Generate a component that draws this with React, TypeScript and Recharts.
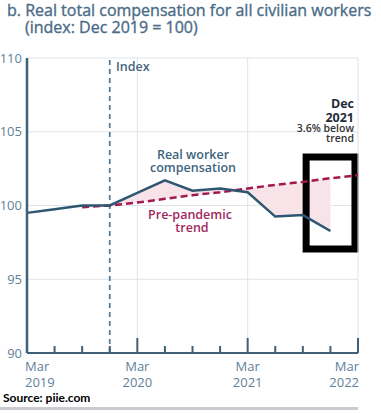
import { Area, CartesianGrid, ComposedChart, Line, ReferenceArea, ReferenceLine, XAxis, YAxis } from "recharts"

// quarterly index, Dec 2019 = 100
const quarters = [
  "Mar 2019", "Jun 2019", "Sep 2019", "Dec 2019",
  "Mar 2020", "Jun 2020", "Sep 2020", "Dec 2020",
  "Mar 2021", "Jun 2021", "Sep 2021", "Dec 2021", "Mar 2022",
]
const compensation = [99.5, 99.75, 100, 100, 100.85, 101.7, 101.0, 101.15, 100.9, 99.25, 99.35, 98.27, null]
const trend = [null, null, 99.88, 100, 100.2, 100.45, 100.7, 100.9, 101.15, 101.4, 101.6, 101.85, 102.05]

const yTicks = [90, 95, 100, 105, 110]
const majorTickIdx = [0, 4, 8, 12]
const tickYears = ["2019", "2020", "2021", "2022"]
const indexQuarter = 3 // Dec 2019
const bandStart = 3

// highlight box drawn over the end of the series
const boxX = [10.12, 11.89]
const boxY = [97.05, 103.29]

const data = quarters.map((q, i) => {
  const c = compensation[i]
  const t = trend[i]
  return {
    i,
    q,
    comp: c,
    trend: t,
    band: c != null && t != null && i >= bandStart ? [Math.min(c, t), Math.max(c, t)] : null,
  }
})

const AXIS = "#3f6079"
const GRID = "#dfe4e8"
const FONT = "'Open Sans', sans-serif"

const XTick = (props: any) => {
  const { x, y, payload } = props
  const idx = payload.value
  const m = majorTickIdx.indexOf(idx)
  const len = m >= 0 ? 15 : 7
  let anchor = "middle"
  let tx = x
  if (idx === 0) { anchor = "start"; tx = x - 2 }
  if (idx === 12) { anchor = "end"; tx = x + 1 }
  return (
    <g>
      <line x1={x} x2={x} y1={y} y2={y - len} stroke={AXIS} strokeWidth={2} />
      {m >= 0 && (
        <text x={tx} y={y} textAnchor={anchor} fill="#5f7f99" fontSize={13} fontFamily={FONT}>
          <tspan x={tx} dy={18}>Mar</tspan>
          <tspan x={tx} dy={15.5}>{tickYears[m]}</tspan>
        </text>
      )}
    </g>
  )
}

export default function App() {
  return (
    <div style={{ position: "absolute", left: 0, top: 0, width: 381, height: 413, background: "#fff", overflow: "hidden" }}>
      <ComposedChart
        width={381}
        height={413}
        data={data}
        margin={{ top: 58, right: 23, bottom: 20, left: 0 }}
      >
        <CartesianGrid vertical={false} stroke={GRID} strokeWidth={1} />
        {majorTickIdx.slice(1).map(v => (
          <ReferenceLine key={v} x={v} stroke={GRID} strokeWidth={1} />
        ))}
        <XAxis
          dataKey="i"
          type="number"
          domain={[0, 12]}
          ticks={quarters.map((_, i) => i)}
          interval={0}
          height={40}
          tickSize={0}
          tickMargin={0}
          tickLine={false}
          axisLine={{ stroke: AXIS, strokeWidth: 2 }}
          tick={<XTick />}
        />
        <YAxis
          type="number"
          domain={[90, 110]}
          ticks={yTicks}
          width={27}
          tickSize={0}
          tickMargin={5}
          tickLine={false}
          axisLine={{ stroke: AXIS, strokeWidth: 2.5 }}
          tick={{ fill: "#5f7f99", fontSize: 13, fontFamily: FONT }}
        />
        <Area
          dataKey="band"
          stroke="none"
          fill="#f8e3e9"
          fillOpacity={1}
          isAnimationActive={false}
          activeDot={false}
        />
        <ReferenceLine
          x={indexQuarter}
          stroke="#5b7a93"
          strokeWidth={1.8}
          strokeDasharray="5 4"
        />
        <Line
          dataKey="trend"
          stroke="#a3184f"
          strokeWidth={2.5}
          strokeDasharray="7 4"
          dot={false}
          isAnimationActive={false}
        />
        <Line
          dataKey="comp"
          stroke="#2f5670"
          strokeWidth={2.5}
          dot={false}
          isAnimationActive={false}
        />
        <ReferenceArea
          x1={boxX[0]}
          x2={boxX[1]}
          y1={boxY[0]}
          y2={boxY[1]}
          fill="none"
          stroke="#000"
          strokeWidth={7}
          ifOverflow="visible"
        />
      </ComposedChart>

      <svg width={381} height={413} style={{ position: "absolute", left: 0, top: 0, pointerEvents: "none" }}>
        <g fontFamily={FONT} fill="#4a6b86" stroke="#4a6b86" strokeWidth={0.35} fontSize={16} fontWeight={500}>
          <text x={7} y={16}>b. Real total compensation for all civilian workers</text>
          <text x={25} y={32.5}>(index: Dec 2019 = 100)</text>
        </g>
        <text x={116} y={70.5} fontFamily={FONT} fontSize={12.5} fontWeight={600} fill="#45657f">Index</text>
        <g fontFamily={FONT} fontSize={12.5} fontWeight={600} fill="#3d6580" textAnchor="middle">
          <text x={193} y={158.5}>Real worker</text>
          <text x={193} y={171.5}>compensation</text>
        </g>
        <g fontFamily={FONT} fontSize={12.5} fontWeight={600} fill="#a02a5c" textAnchor="middle">
          <text x={190} y={219}>Pre-pandemic</text>
          <text x={192} y={232}>trend</text>
        </g>
        <g fontFamily={FONT} textAnchor="end">
          <text x={354} y={108} fontSize={12.5} fontWeight={700} fill="#1f2d3a">Dec</text>
          <text x={354} y={122} fontSize={12.5} fontWeight={700} fill="#1f2d3a">2021</text>
          <text x={354} y={132} fontSize={10.5} fontWeight={600} fill="#333">3.6% below</text>
          <text x={354} y={142} fontSize={10.5} fontWeight={600} fill="#333">trend</text>
        </g>
        <text x={3} y={401.5} fontFamily="Lato, sans-serif" fontSize={12} fontWeight={700} fill="#000">Source: piie.com</text>
        <rect x={0} y={407} width={358} height={3} fill="#c9cdd1" />
      </svg>
    </div>
  )
}
